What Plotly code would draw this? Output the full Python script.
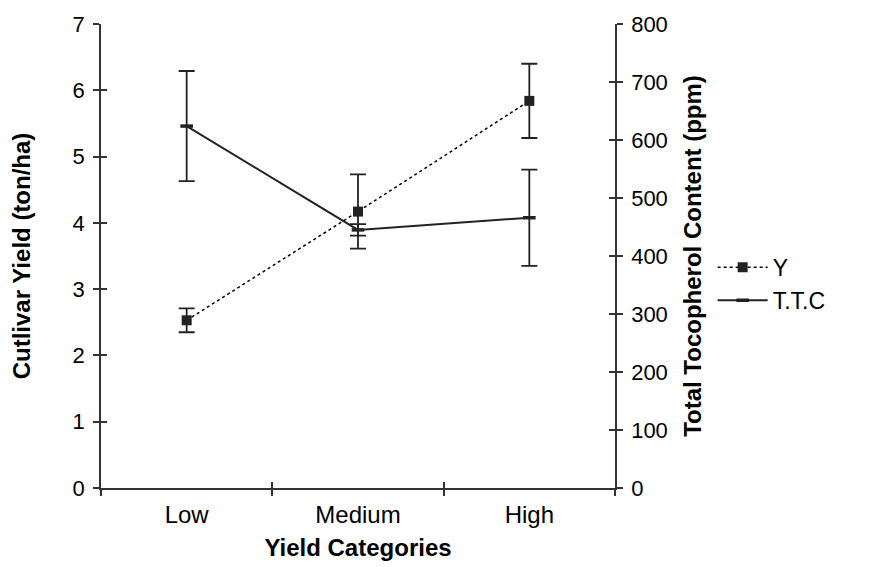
import plotly.graph_objects as go

categories = ["Low", "Medium", "High"]
yield_values = [2.53, 4.17, 5.84]
yield_err = [0.18, 0.56, 0.56]
ttc_values = [624, 445, 466]
ttc_err = [95, 10, 83]

INK = "#222222"
AX = "#333333"

fig = go.Figure()

fig.add_trace(go.Scatter(
    x=categories, y=yield_values, name="Y", yaxis="y",
    mode="lines+markers",
    line=dict(color="black", width=1.5, dash="dot"),
    marker=dict(symbol="square", size=10, color=INK),
    error_y=dict(type="data", array=yield_err, visible=True,
                 color=INK, thickness=1.8, width=8),
))

fig.add_trace(go.Scatter(
    x=categories, y=ttc_values, name="T.T.C", yaxis="y2",
    mode="lines+markers",
    line=dict(color=INK, width=2),
    marker=dict(symbol="line-ew", size=9, color=INK,
                line=dict(color=INK, width=3.5)),
    error_y=dict(type="data", array=ttc_err, visible=True,
                 color=INK, thickness=1.8, width=8),
))

font_family = "Liberation Sans, Arial, sans-serif"
TICK = 22
TITLE = 24

fig.update_layout(
    width=880, height=567,
    margin=dict(l=93, r=273, t=16, b=87),
    plot_bgcolor="white", paper_bgcolor="white",
    font=dict(family=font_family, size=TICK, color="black"),
    showlegend=True,
    legend=dict(x=1.19, y=0.44, xanchor="left", yanchor="middle",
                font=dict(size=23), bgcolor="rgba(0,0,0,0)",
                itemwidth=50),
    xaxis=dict(
        type="category", range=[-0.5, 2.5], automargin=False,
        tickson="boundaries", ticks="outside", ticklen=6,
        tickcolor=AX, tickwidth=1.5, showline=True, linecolor=AX,
        linewidth=1.5, showgrid=False, zeroline=False,
        tickfont=dict(size=24),
        title=dict(text="<b>Yield Categories</b>", font=dict(size=TITLE), standoff=13),
        ticklabelstandoff=4,
    ),
    xaxis2=dict(
        type="category", range=[-0.5, 2.5], overlaying="x", anchor="y",
        side="bottom", matches="x", automargin=False,
        tickson="boundaries", ticks="inside", ticklen=6,
        tickcolor=AX, tickwidth=1.5, showticklabels=False,
        showline=False, showgrid=False, zeroline=False,
    ),
    yaxis=dict(
        range=[0, 7], dtick=1, ticks="outside", ticklen=6, automargin=False,
        tickcolor=AX, tickwidth=1.5, showline=True, linecolor=AX,
        linewidth=1.5, showgrid=False, zeroline=False,
        title=dict(text="<b>Cutlivar Yield (ton/ha)</b>", font=dict(size=TITLE), standoff=38),
        ticklabelstandoff=4,
    ),
    yaxis2=dict(
        range=[0, 800], dtick=100, overlaying="y", side="right", automargin=False,
        ticks="outside", ticklen=6, tickcolor=AX, tickwidth=1.5,
        showline=True, linecolor=AX, linewidth=1.5,
        showgrid=False, zeroline=False,
        title=dict(text="<b>Total Tocopherol Content (ppm)</b>", font=dict(size=TITLE), standoff=17),
        ticklabelstandoff=4,
    ),
    yaxis3=dict(
        range=[0, 7], dtick=1, overlaying="y", side="left", automargin=False,
        ticks="inside", ticklen=6, tickcolor=AX, tickwidth=1.5,
        showticklabels=False, showline=False, showgrid=False, zeroline=False,
    ),
    yaxis4=dict(
        range=[0, 800], dtick=100, overlaying="y", side="right", automargin=False,
        ticks="inside", ticklen=6, tickcolor=AX, tickwidth=1.5,
        showticklabels=False, showline=False, showgrid=False, zeroline=False,
    ),
)

# invisible anchor traces so the ghost tick axes are drawn
fig.add_trace(go.Scatter(x=categories, y=[None, None, None], xaxis="x2", yaxis="y3",
                         showlegend=False, hoverinfo="skip"))
fig.add_trace(go.Scatter(x=categories, y=[None, None, None], yaxis="y4",
                         showlegend=False, hoverinfo="skip"))

fig.write_html("out.html")
